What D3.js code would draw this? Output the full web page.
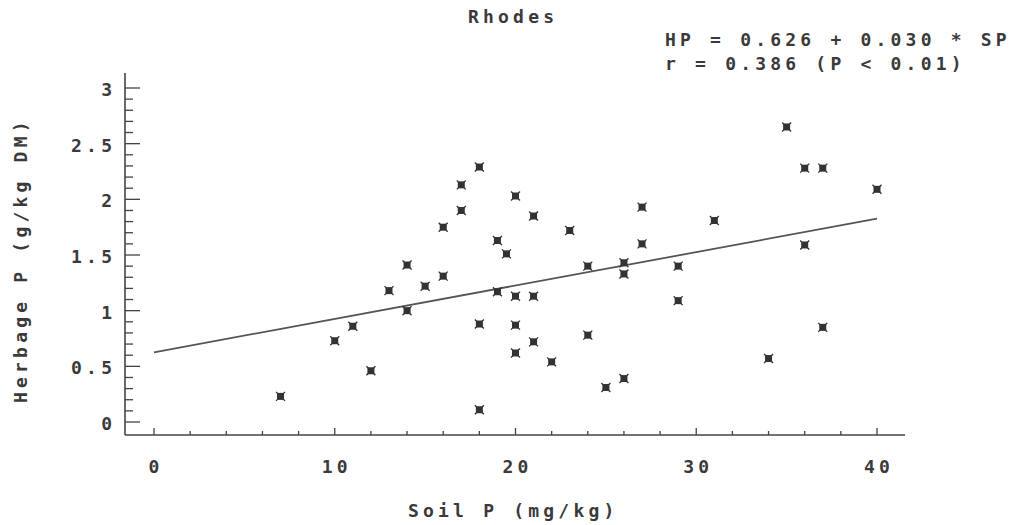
<!DOCTYPE html>
<html>
<head>
<meta charset="utf-8">
<script src="https://cdn.jsdelivr.net/npm/d3@7"></script>
<style>
  body { margin: 0; background: #fff; }
  text { font-family: "DejaVu Sans Mono", "Liberation Mono", monospace; font-weight: bold; fill: #3a3a3a; }
</style>
</head>
<body>
<svg id="chart" width="1023" height="525"></svg>
<script>
// soil P (mg/kg) vs herbage P (g/kg DM)
var soilP = [7, 10, 11, 12, 13, 14, 14, 15, 16, 16, 17, 17, 18, 18, 18,
  19, 19, 19.5, 20, 20, 20, 20, 21, 21, 21, 22, 23, 24, 24, 25, 26, 26, 26,
  27, 27, 29, 29, 31, 34, 35, 36, 36, 37, 37, 40];
var herbP = [0.23, 0.73, 0.86, 0.46, 1.18, 1.41, 1.0, 1.22, 1.75, 1.31, 2.13, 1.90, 2.29, 0.88, 0.11,
  1.63, 1.17, 1.51, 2.03, 1.13, 0.87, 0.62, 1.85, 1.13, 0.72, 0.54, 1.72, 1.40, 0.78, 0.31, 1.43, 1.33, 0.39,
  1.93, 1.60, 1.40, 1.09, 1.81, 0.57, 2.65, 2.28, 1.59, 2.28, 0.85, 2.09];
var intercept = 0.626, slope = 0.030;
var xTicks = [0, 10, 20, 30, 40];
var yTicks = [0, 0.5, 1, 1.5, 2, 2.5, 3];
var titleText = "Rhodes";
var eqLines = ["HP = 0.626 + 0.030 * SP", "r = 0.386 (P < 0.01)"];
var xTitle = "Soil P (mg/kg)";
var yTitle = "Herbage P (g/kg DM)";

var data = soilP.map(function(v, i) { return { x: v, y: herbP[i] }; });

var svg = d3.select('#chart');
var fs = 18, ls = 4.2;   // font size, letter spacing -> ~15px pitch

var x = d3.scaleLinear().domain([0, 40]).range([154, 877]);
var y = d3.scaleLinear().domain([0, 3]).range([422, 88]);

var axisX = 125, axisY = 435;
var ink = '#444';

// axes lines
svg.append('line').attr('x1', axisX).attr('x2', axisX).attr('y1', 73).attr('y2', axisY)
  .attr('stroke', ink).attr('stroke-width', 1.6);
svg.append('line').attr('x1', axisX).attr('x2', 905).attr('y1', axisY).attr('y2', axisY)
  .attr('stroke', ink).attr('stroke-width', 1.6);

// y ticks: minor every 0.1, major every 0.5
d3.range(0, 31).forEach(function(i) {
  var v = i / 10;
  var major = i % 5 == 0;
  svg.append('line')
    .attr('x1', axisX).attr('x2', axisX + (major ? 15 : 8))
    .attr('y1', y(v)).attr('y2', y(v))
    .attr('stroke', ink).attr('stroke-width', 1.3);
});
svg.selectAll('text.ytick').data(yTicks).enter().append('text')
  .attr('class', 'ytick')
  .attr('x', 112 + ls).attr('y', function(d) { return y(d) + 8; })
  .attr('text-anchor', 'end')
  .style('font-size', fs + 'px').style('letter-spacing', ls + 'px')
  .text(function(d) { return d; });

// x ticks: minor every 2, major every 10
d3.range(0, 21).forEach(function(i) {
  var v = i * 2;
  var major = v % 10 == 0;
  svg.append('line')
    .attr('x1', x(v)).attr('x2', x(v))
    .attr('y1', axisY).attr('y2', axisY - (major ? 7 : 4))
    .attr('stroke', ink).attr('stroke-width', 1.3);
});
svg.selectAll('text.xtick').data(xTicks).enter().append('text')
  .attr('class', 'xtick')
  .attr('x', function(d) { return x(d) + ls / 2; }).attr('y', 473)
  .attr('text-anchor', 'middle')
  .style('font-size', fs + 'px').style('letter-spacing', ls + 'px')
  .text(function(d) { return d; });

// regression line
var line = d3.line().x(function(d) { return x(d); }).y(function(d) { return y(intercept + slope * d); });
svg.append('path').attr('d', line([0, 40]))
  .attr('fill', 'none').attr('stroke', '#555').attr('stroke-width', 1.8);

// markers: filled square with short diagonal spikes
var pts = svg.selectAll('g.pt').data(data).enter().append('g')
  .attr('class', 'pt')
  .attr('transform', function(d) { return 'translate(' + x(d.x) + ',' + y(d.y) + ')'; });
pts.append('rect').attr('x', -3.5).attr('y', -3.5).attr('width', 7).attr('height', 7).attr('fill', '#333');
pts.append('path').attr('d', 'M-4.5,-4.5L4.5,4.5M-4.5,4.5L4.5,-4.5').attr('stroke', '#333').attr('stroke-width', 1.3);

// titles
svg.append('text').attr('x', 468).attr('y', 23)
  .style('font-size', fs + 'px').style('letter-spacing', ls + 'px')
  .text(titleText);
svg.selectAll('text.eq').data(eqLines).enter().append('text')
  .attr('class', 'eq')
  .attr('x', 665).attr('y', function(d, i) { return 46 + i * 24; })
  .style('font-size', fs + 'px').style('letter-spacing', ls + 'px')
  .text(function(d) { return d; });
svg.append('text').attr('x', 408).attr('y', 517)
  .style('font-size', fs + 'px').style('letter-spacing', ls + 'px')
  .text(xTitle);
svg.append('text')
  .attr('transform', 'translate(27,403) rotate(-90)')
  .style('font-size', fs + 'px').style('letter-spacing', ls + 'px')
  .text(yTitle);
</script>
</body>
</html>
